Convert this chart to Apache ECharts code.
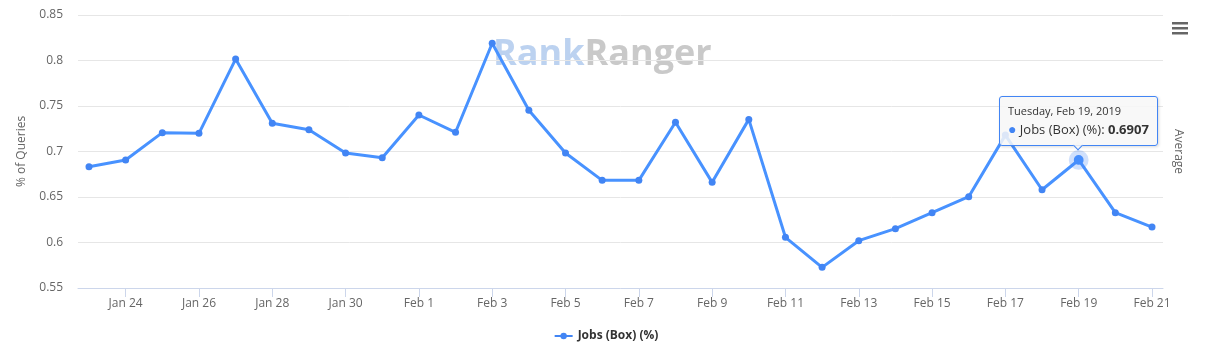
<!DOCTYPE html>
<html>
<head>
<meta charset="utf-8">
<script src="https://cdn.jsdelivr.net/npm/echarts@6/dist/echarts.min.js"></script>
<style>
html,body{margin:0;padding:0;background:#fff;}
#chart{width:1212px;height:363px;}
</style>
</head>
<body>
<div id="chart"></div>
<script>
// ---- data ----
const dates = ['Jan 23','Jan 24','Jan 25','Jan 26','Jan 27','Jan 28','Jan 29','Jan 30','Jan 31',
  'Feb 1','Feb 2','Feb 3','Feb 4','Feb 5','Feb 6','Feb 7','Feb 8','Feb 9','Feb 10','Feb 11',
  'Feb 12','Feb 13','Feb 14','Feb 15','Feb 16','Feb 17','Feb 18','Feb 19','Feb 20','Feb 21'];
const values = [0.6833,0.6907,0.7207,0.7200,0.8016,0.7310,0.7240,0.6984,0.6932,
  0.7401,0.7211,0.8189,0.7453,0.6984,0.6683,0.6683,0.7321,0.6661,0.7353,0.6057,
  0.5727,0.6020,0.6152,0.6328,0.6503,0.7180,0.6580,0.6907,0.6328,0.6170];
const xTickLabels = ['Jan 24','Jan 26','Jan 28','Jan 30','Feb 1','Feb 3','Feb 5','Feb 7',
  'Feb 9','Feb 11','Feb 13','Feb 15','Feb 17','Feb 19','Feb 21'];
const yTicks = [0.55,0.6,0.65,0.7,0.75,0.8,0.85];
const seriesName = 'Jobs (Box) (%)';
const year = 2019;
const tooltipIndex = dates.indexOf('Feb 19');

const monthNames = ['Jan','Feb','Mar','Apr','May','Jun','Jul','Aug','Sep','Oct','Nov','Dec'];
const weekDays = ['Sunday','Monday','Tuesday','Wednesday','Thursday','Friday','Saturday'];
function fullDate(label){
  const parts = label.split(' ');
  const d = new Date(year, monthNames.indexOf(parts[0]), parseInt(parts[1],10));
  return weekDays[d.getDay()] + ', ' + label + ', ' + year;
}

const tickIdx = xTickLabels.map(l => dates.indexOf(l));
const FONT = "'Open Sans', 'Noto Sans', sans-serif";
const BLUE = '#4285f4';

const chart = echarts.init(document.getElementById('chart'), null, {renderer:'canvas'});
chart.setOption({
  animation: false,
  textStyle: {fontFamily: FONT},
  grid: {left: 78, right: 49, top: 15, bottom: 75, containLabel: false},
  xAxis: {
    type: 'value',
    min: -0.3,
    max: dates.length - 1 + 0.3,
    axisLine: {show: true, lineStyle: {color: '#ccd6eb', width: 1}},
    axisTick: {show: true, length: 9, customValues: tickIdx, lineStyle: {color: '#ccd6eb'}},
    axisLabel: {customValues: tickIdx, color: '#666', fontSize: 12, fontFamily: FONT, margin: 10,
      formatter: v => dates[Math.round(v)] || ''},
    splitLine: {show: false}
  },
  yAxis: [{
    type: 'value',
    min: yTicks[0], max: yTicks[yTicks.length-1], interval: 0.05,
    name: '% of Queries', nameLocation: 'middle', nameGap: 50,
    nameTextStyle: {color: '#666', fontSize: 12, fontFamily: FONT},
    axisLine: {show: false}, axisTick: {show: false},
    axisLabel: {color: '#666', fontSize: 12, fontFamily: FONT, margin: 15},
    splitLine: {lineStyle: {color: '#e6e6e6'}}
  },{
    type: 'value', position: 'right', min: 0, max: 1,
    name: 'Average', nameLocation: 'middle', nameGap: 9, nameRotate: -90,
    nameTextStyle: {color: '#666', fontSize: 12, fontFamily: FONT},
    axisLine: {show: false}, axisTick: {show: false}, axisLabel: {show: false},
    splitLine: {show: false}
  }],
  legend: {
    data: [seriesName], bottom: 16, left: 'center', itemWidth: 18, itemHeight: 8, itemGap: 5,
    textStyle: {color: '#333', fontWeight: 'bold', fontSize: 12, fontFamily: FONT}
  },
  tooltip: {
    trigger: 'item', position: 'top', alwaysShowContent: true, transitionDuration: 0,
    backgroundColor: 'rgba(247,247,247,0.85)', borderColor: BLUE, borderWidth: 1,
    padding: [6, 8],
    extraCssText: 'border-radius:3px;box-shadow:1px 1px 3px rgba(0,0,0,0.15);',
    textStyle: {color: '#333', fontSize: 13, fontFamily: FONT},
    formatter: p => '<div style="font-size:11px;line-height:16px;">' + fullDate(dates[p.value[0]]) + '</div>' +
      '<div style="font-size:13px;line-height:19px;"><span style="color:' + BLUE + ';font-size:14px;">\u25CF</span> ' +
      p.seriesName + ': <b>' + p.value[1].toFixed(4) + '</b></div>'
  },
  graphic: [{
    type: 'text', left: 493, top: 37, z: 0, silent: true,
    style: {
      text: '{a|Rank}{b|Ranger}',
      rich: {
        a: {fill: '#bcd2f0', fontSize: 36, fontWeight: 'bold', fontFamily: FONT},
        b: {fill: '#c9c9c9', fontSize: 36, fontWeight: 'bold', fontFamily: FONT}
      }
    }
  },{
    type: 'group', left: 1172, top: 22, silent: true,
    children: [
      {type: 'rect', shape: {x: 0, y: 0, width: 16, height: 2.5}, style: {fill: '#666'}},
      {type: 'rect', shape: {x: 0, y: 5, width: 16, height: 2.5}, style: {fill: '#666'}},
      {type: 'rect', shape: {x: 0, y: 10, width: 16, height: 2.5}, style: {fill: '#666'}}
    ]
  }],
  series: [{
    name: seriesName,
    type: 'line',
    data: values.map((v, i) => [i, v]),
    symbol: 'circle', symbolSize: 7, showSymbol: true,
    lineStyle: {color: BLUE, width: 3},
    itemStyle: {color: BLUE},
    emphasis: {scale: 1.4, itemStyle: {borderColor: 'rgba(66,133,244,0.25)', borderWidth: 10}, lineStyle: {width: 3}},
    z: 3
  }]
});
chart.dispatchAction({type: 'highlight', seriesIndex: 0, dataIndex: tooltipIndex});
chart.dispatchAction({type: 'showTip', seriesIndex: 0, dataIndex: tooltipIndex});
</script>
</body>
</html>
